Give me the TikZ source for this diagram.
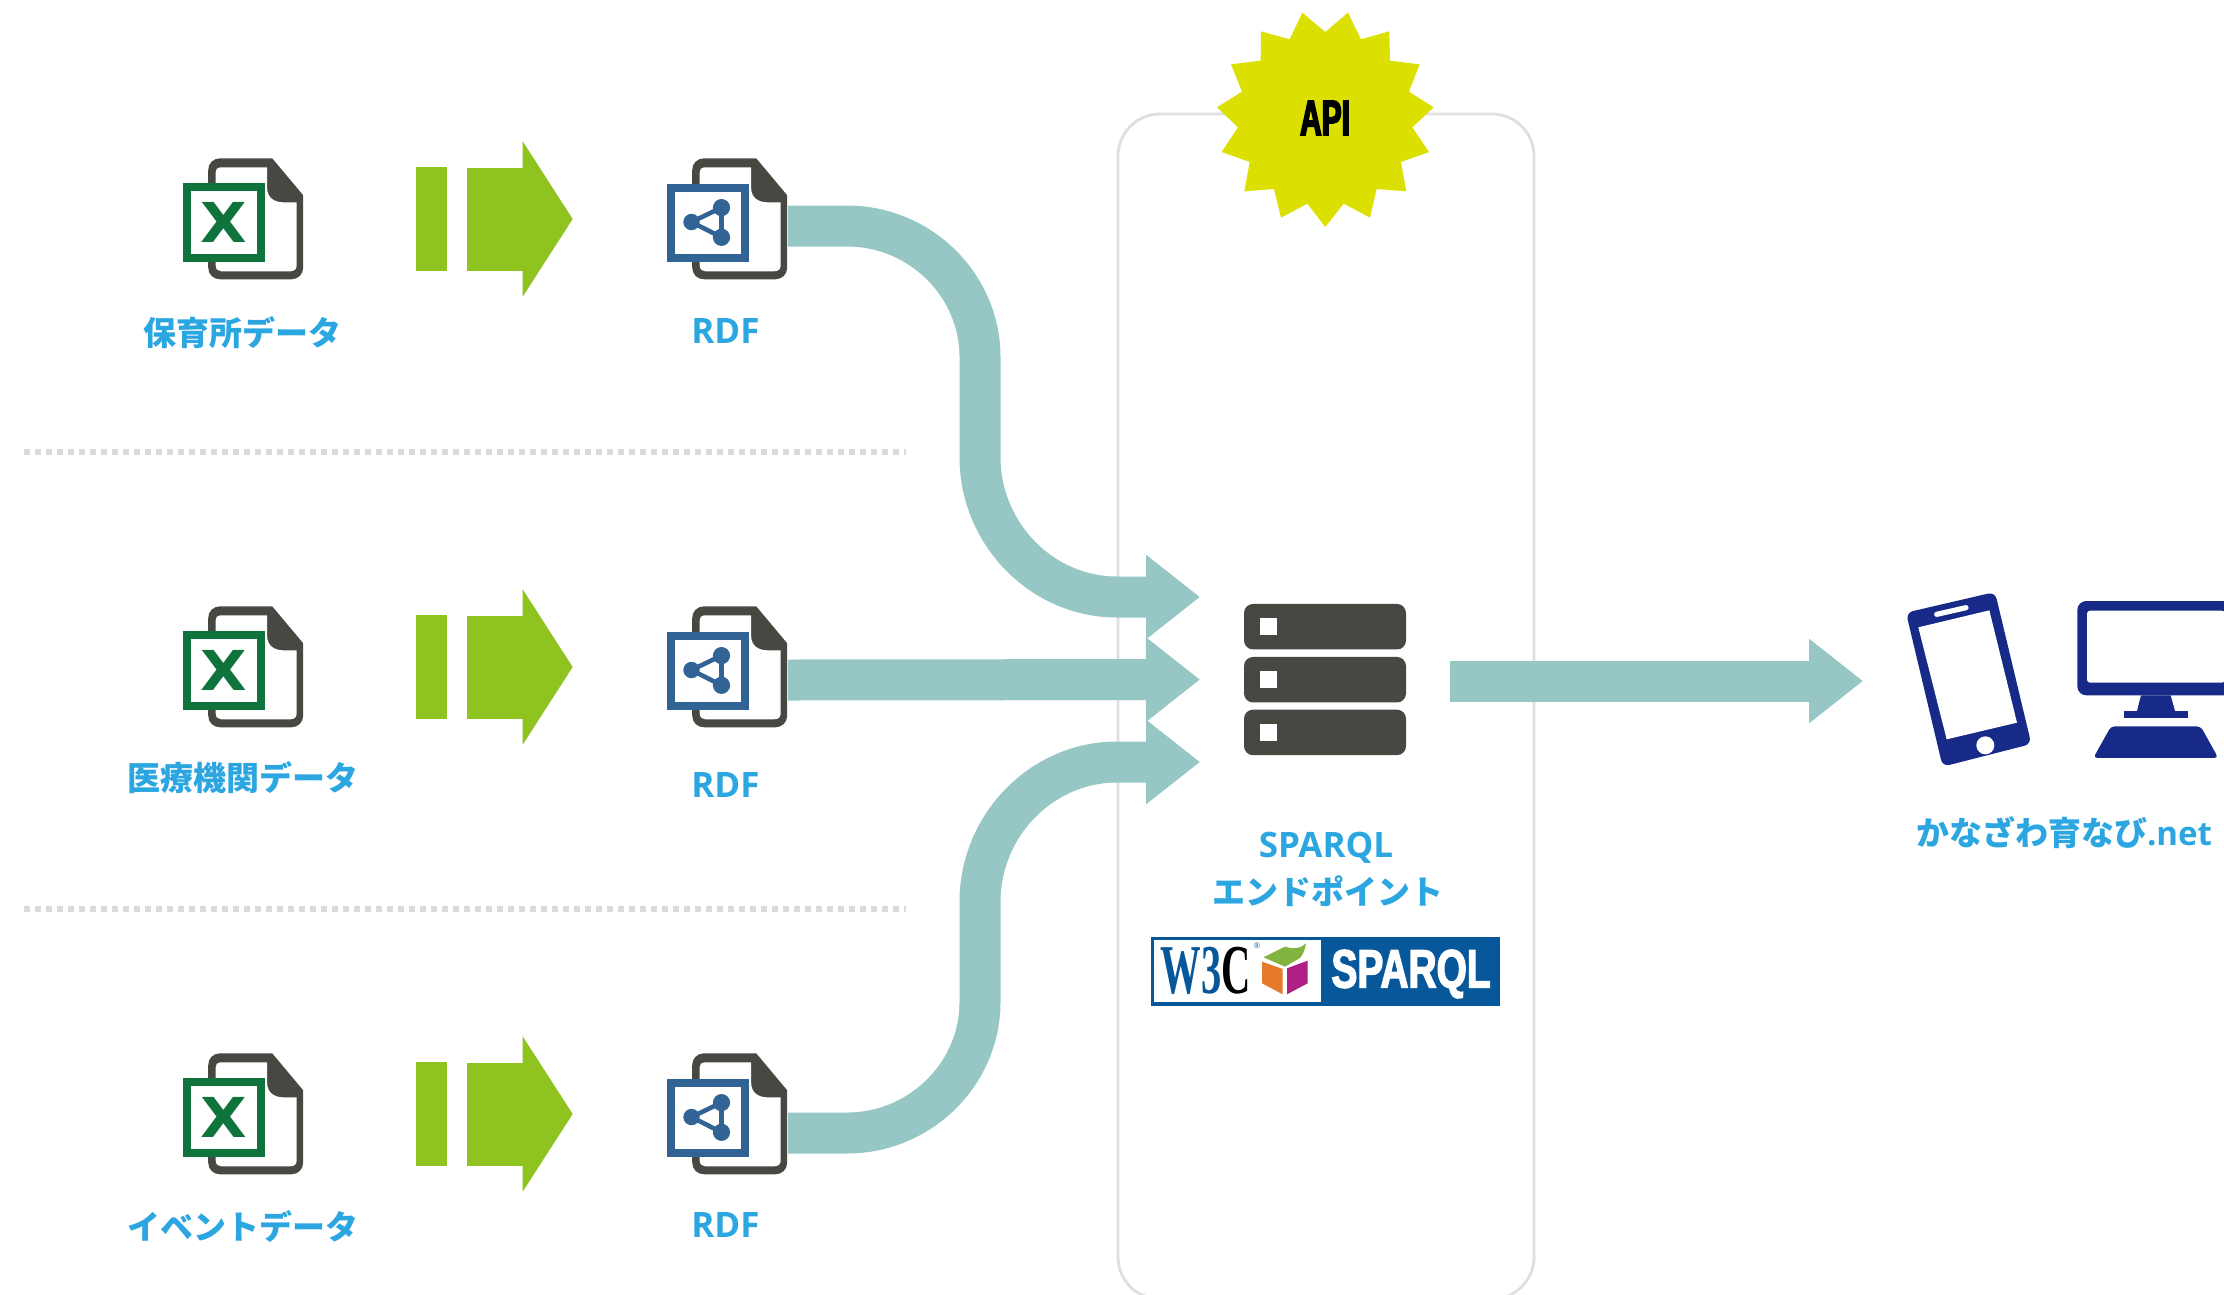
\documentclass[tikz,border=0pt]{standalone}
\usepackage{fontspec}
\usepackage{graphicx}
\usetikzlibrary{arrows.meta}
\newfontfamily\jpfont{Noto Sans CJK JP}
\newfontfamily\lafont{Open Sans}
\newfontfamily\arfont{Liberation Sans}
\newfontfamily\apifont[BoldFeatures={FakeStretch=0.6,FakeBold=3}]{Liberation Sans}
\newfontfamily\wsqfont[BoldFeatures={FakeStretch=0.72,FakeBold=2.5}]{Liberation Sans}
\newfontfamily\sefont[BoldFeatures={FakeStretch=0.58}]{Liberation Serif}
\newfontfamily\djfont{DejaVu Sans}
\definecolor{inkdark}{HTML}{474842}
\definecolor{xlgreen}{HTML}{0F743B}
\definecolor{rdfblue}{HTML}{316395}
\definecolor{leaf}{HTML}{8FC31F}
\definecolor{teal1}{HTML}{96C7C5}
\definecolor{burst}{HTML}{DCE000}
\definecolor{navy1}{HTML}{172A88}
\definecolor{sky}{HTML}{2CA6E0}
\definecolor{edge}{HTML}{DEDFE0}
\definecolor{dots}{HTML}{D9DBDB}
\definecolor{wblue}{HTML}{07589A}
\definecolor{cubeor}{HTML}{E57B2A}
\definecolor{cubemg}{HTML}{AE2084}
\definecolor{cubegr}{HTML}{84B440}
\tikzset{
  lab/.style={inner sep=0pt,text=sky,font=\fontsize{33}{38}\selectfont\jpfont\bfseries,align=center},
  lat/.style={inner sep=0pt,text=sky,font=\fontsize{35}{40}\selectfont\lafont\bfseries},
  flow/.style={draw=teal1,line width=41pt,-{Triangle[length=54pt,width=81pt,fill=teal1]}},
  leafbar/.style={fill=leaf,inner sep=0pt,minimum width=31pt,minimum height=104pt},
  leafarrow/.style={draw=leaf,line width=103pt,-{Triangle[length=50pt,width=153pt,fill=leaf]}},
  sep/.style={draw=dots,line width=6pt,dash pattern=on 6pt off 5pt},
  rack/.style={fill=inkdark,rounded corners=9pt,inner sep=0pt,minimum width=162pt,minimum height=45.5pt},
  led/.style={fill=white,inner sep=0pt,minimum size=17pt},
  iconbox/.style={draw=#1,fill=white,line width=8pt}
}
\newcommand{\docshape}{%
  \fill[inkdark] (64,0) -- (95,37) -- (95,109) .. controls (95,116) and (90,121) .. (83,121) -- (12,121) .. controls (5,121) and (0,116) .. (0,109) -- (0,12) .. controls (0,5) and (5,0) .. (12,0) -- cycle;
  \fill[white] (12,9) -- (59,9) -- (59,30) .. controls (59,39) and (66,44) .. (75,44) -- (88.5,44) -- (88.5,107) .. controls (88.5,111) and (86,113) .. (82,113) -- (13,113) .. controls (10,113) and (7.5,111) .. (7.5,107) -- (7.5,14) .. controls (7.5,11) and (9,9) .. (12,9) -- cycle;
}
\begin{document}
\begin{tikzpicture}[x=1pt,y=-1pt]
\useasboundingbox (0,0) rectangle (2224,1294);
\clip (0,0) rectangle (2224,1294);
\fill[white] (0,0) rectangle (2224,1294);

% container
\draw[edge,line width=2.8pt,rounded corners=42pt] (1118,114) rectangle (1534,1299);

% separators
\coordinate (sepAa) at (24,451.5); \coordinate (sepAb) at (906,451.5);
\coordinate (sepBa) at (24,908.5); \coordinate (sepBb) at (906,908.5);
\draw[sep] (sepAa) -- (sepAb);
\draw[sep] (sepBa) -- (sepBb);

% rows of icons
\foreach \r/\dy in {A/0,B/448,C/895}{
  \begin{scope}[shift={(208.2,158.3+\dy)}]
    \docshape
    \draw[iconbox=xlgreen] (-21.7,29) rectangle (52.3,100);
    \node[inner sep=0pt,text=xlgreen,font=\fontsize{55}{55}\selectfont\djfont\bfseries] (xl\r) at (15.5,64.5) {\scalebox{1.1}[1]{X}};
  \end{scope}
  \node[leafbar] (bar\r) at (431.5,219+\dy) {};
  \coordinate (gs\r) at (467,219+\dy);
  \coordinate (ge\r) at (572.7,219+\dy);
  \draw[leafarrow] (gs\r) -- (ge\r);
  \begin{scope}[shift={(692.2,158.3+\dy)}]
    \docshape
    \draw[iconbox=rdfblue] (-21,29.3) rectangle (52.3,99.7);
    \coordinate (n1\r) at (-0.7,63.7);
    \coordinate (n2\r) at (29.3,49.3);
    \coordinate (n3\r) at (29.3,79);
    \fill[rdfblue] (n1\r) circle (8.2) (n2\r) circle (8.6) (n3\r) circle (8.6);
    \draw[rdfblue,line width=4.6pt] (n1\r) -- (n2\r) -- (n3\r) -- cycle;
  \end{scope}
}

% labels
\node[lab] (lblA) at (242.5,333) {保育所データ};
\node[lab] (lblB) at (242.5,778) {医療機関データ};
\node[lab] (lblC) at (242.5,1226) {イベントデータ};
\node[lat] (rdfA) at (725.5,331) {RDF};
\node[lat] (rdfB) at (725.5,785) {RDF};
\node[lat] (rdfC) at (725.5,1225) {RDF};

% flows
\coordinate (oA) at (788,226);
\coordinate (oB) at (788,680);
\coordinate (oC) at (788,1133);
\coordinate (tA) at (1200,597);
\coordinate (tB) at (1200,679.5);
\coordinate (tC) at (1200,762);
\draw[flow] (oA) -- (847,226) .. controls (920,226) and (980,285) .. (980,357) -- (980,457) .. controls (980,534) and (1042,597) .. (1117,597) -- (tA);
\draw[flow] (oC) -- (847,1133) .. controls (920,1133) and (980,1074) .. (980,1002) -- (980,902) .. controls (980,825) and (1042,762) .. (1117,762) -- (tC);
\draw[flow] (oB) -- (tB);

% server
\node[rack] (srvA) at (1325,626.7) {};
\node[rack] (srvB) at (1325,679.7) {};
\node[rack] (srvC) at (1325,732.4) {};
\node[led] (ledA) at (1268.5,626.7) {};
\node[led] (ledB) at (1268.5,679.7) {};
\node[led] (ledC) at (1268.5,732.4) {};
\node[lat] (spq) at (1326,847.5) {SPARQL};
\node[lab] (ept) at (1328,891) {エンドポイント};

% output arrow
\coordinate (oD) at (1450,681);
\coordinate (tD) at (1863,681);
\draw[flow] (oD) -- (tD);

% starburst
\begin{scope}[shift={(1200,0)},x=0.3333pt,y=-0.3333pt]
\fill[burst] (307,38)--(376,96)--(444,38)--(483,118)--(568,94)--(570,182)--(659,193)--(627,275)--(701,322)--(637,382)--(687,456)--(603,486)--(619,574)--(530,567)--(510,653)--(431,611)--(376,681)--(322,611)--(243,653)--(222,567)--(133,574)--(149,486)--(65,456)--(114,382)--(51,322)--(126,275)--(93,193)--(182,182)--(183,94)--(269,118)--cycle;
\end{scope}
\node[inner sep=0pt,font=\fontsize{50}{50}\selectfont\apifont\bfseries] (api) at (1325,118) {API};

% W3C SPARQL badge
\fill[wblue] (1150.7,936.7) rectangle (1500,1005.7);
\fill[white] (1154,940) rectangle (1321,1002);
\node[inner sep=0pt,font=\fontsize{70}{70}\selectfont\sefont\bfseries] (w3) at (1206,971) {\textcolor{wblue}{W3}\textcolor{black}{C}};
\node[inner sep=0pt,text=wblue,font=\fontsize{8}{8}\selectfont\arfont] (reg) at (1257,946) {®};
\begin{scope}[shift={(1130,580)},x=0.3333pt,y=-0.3333pt]
\fill[cubeor] (396,1145)--(458,1167)--(458,1243)--(396,1210)--cycle;
\fill[cubemg] (471,1165)--(533,1142)--(533,1210)--(471,1243)--cycle;
\fill[cubegr] (400,1132)--(465,1100) .. controls (490,1108) and (515,1105) .. (528,1090) .. controls (525,1110) and (520,1122) .. (510,1134) -- (465,1160)--cycle;
\end{scope}
\node[inner sep=0pt,text=white,font=\fontsize{54}{54}\selectfont\wsqfont\bfseries] (spqw) at (1411,974) {SPARQL};

% phone
\begin{scope}[shift={(1880,580)},x=0.3333pt,y=-0.3333pt]
\fill[navy1,rounded corners=7pt] (78,98)--(345,36)--(454,492)--(188,560)--cycle;
\fill[white] (115,142)--(328,91)--(411,428)--(200,478)--cycle;
\draw[white,line width=5.2pt,line cap=round] (170,103)--(258,83);
\fill[white] (316,496) circle (9pt);
% monitor
\fill[navy1,rounded corners=9pt] (592,63) rectangle (1064,346);
\fill[white,rounded corners=3pt] (621,92) rectangle (1035,308);
\fill[navy1] (783,346)--(872,346)--(885,393)--(771,393)--cycle;
\fill[navy1] (732,393) rectangle (924,414);
\fill[navy1,rounded corners=4pt] (640,534)--(693,439)--(962,439)--(1015,534)--cycle;
\end{scope}
\node[inner sep=0pt,text=sky,font=\fontsize{33}{38}\selectfont\jpfont\bfseries] (kana) at (2064,833) {かなざわ育なび{\lafont .net}};
\end{tikzpicture}
\end{document}
